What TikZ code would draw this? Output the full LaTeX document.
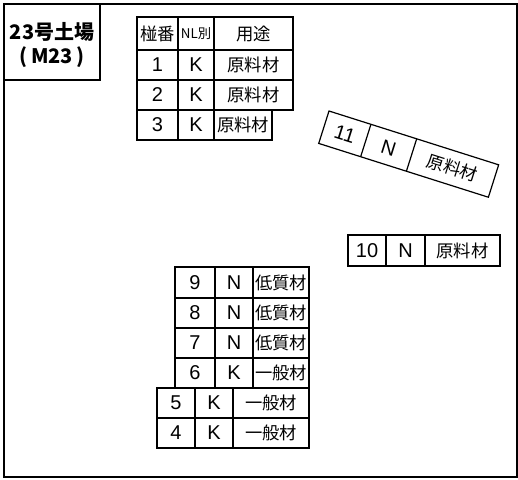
\documentclass[tikz,border=0pt]{standalone}
\usepackage{fontspec}
\setmainfont{Noto Sans CJK JP}
\newfontfamily\latinfont{Liberation Sans}
\usepackage{tikz}

\begin{document}
\begin{tikzpicture}[x=0.75pt,y=0.75pt,yscale=-1,xscale=1,
  every path/.style={line width=0.9pt},
  num/.style={inner sep=0.5pt,font=\latinfont\fontsize{15}{16}\selectfont},
  kanji/.style={inner sep=0.5pt,font=\fontsize{13}{14}\selectfont},
  small/.style={inner sep=0.5pt,font=\fontsize{10}{11}\selectfont},
  title/.style={inner sep=0.75pt,font=\bfseries\fontsize{15}{16}\selectfont}]
\useasboundingbox (0,0) rectangle (518,479);

%Shape: Rectangle [id:frame] 
\draw   (4,4) -- (517,4) -- (517,477) -- (4,477) -- cycle ;
%Shape: Rectangle [id:titlebox] 
\draw   (4,4) -- (100,4) -- (100,80) -- (4,80) -- cycle ;

% Text Node
\draw (52,32) node [title] (yard) {23号土場};
% Text Node
\draw (52,57) node [title] (yardcode) {(\,M23\,)};

%Shape: Table [id:tbl1] 
\draw   (137,17) -- (293,17) -- (293,110) -- (272,110) -- (272,140) -- (137,140) -- cycle ;
\draw   (137,50) -- (293,50) ;
\draw   (137,80) -- (293,80) ;
\draw   (137,110) -- (272,110) ;
\draw   (178,17) -- (178,140) ;
\draw   (214,17) -- (214,140) ;

% Text Node
\draw (157.5,33.5) node [kanji] (hno) {椪番};
% Text Node
\draw (196,33.5) node [small] (hnl) {NL別};
% Text Node
\draw (253.5,33.5) node [kanji] (huse) {用途};
% Text Node
\draw (157.5,65) node [num] (no1) {1};
\draw (196,65) node [num] (nl1) {K};
\draw (253.5,65) node [kanji] (use1) {原料材};
% Text Node
\draw (157.5,95) node [num] (no2) {2};
\draw (196,95) node [num] (nl2) {K};
\draw (253.5,95) node [kanji] (use2) {原料材};
% Text Node
\draw (157.5,125) node [num] (no3) {3};
\draw (196,125) node [num] (nl3) {K};
\draw (243,125) node [kanji] (use3) {原料材};

%Shape: Table [id:tbl11] 
\begin{scope}[shift={(329,111)},rotate=17.6]
\draw   (0,0) -- (178,0) -- (178,34) -- (0,34) -- cycle ;
\draw   (44,0) -- (44,34) ;
\draw   (92,0) -- (92,34) ;
% Text Node
\draw (22,17) node [num,rotate=-17.6] (no11) {11};
\draw (68,17) node [num,rotate=-17.6] (nl11) {N};
\draw (135,17) node [kanji,rotate=-17.6] (use11) {原料材};
\end{scope}

%Shape: Table [id:tbl10] 
\draw   (348,235) -- (500,235) -- (500,266) -- (348,266) -- cycle ;
\draw   (386,235) -- (386,266) ;
\draw   (425,235) -- (425,266) ;
% Text Node
\draw (367,250.5) node [num] (no10) {10};
\draw (405.5,250.5) node [num] (nl10) {N};
\draw (462.5,250.5) node [kanji] (use10) {原料材};

%Shape: Table [id:tbl9to6] 
\draw   (175,267) -- (309,267) -- (309,388) -- (175,388) -- cycle ;
\draw   (175,298) -- (309,298) ;
\draw   (175,328) -- (309,328) ;
\draw   (175,358) -- (309,358) ;
\draw   (215,267) -- (215,388) ;
\draw   (253,267) -- (253,388) ;

% Text Node
\draw (195,282.5) node [num] (no9) {9};
\draw (234,282.5) node [num] (nl9) {N};
\draw (281,282.5) node [kanji] (use9) {低質材};
% Text Node
\draw (195,313) node [num] (no8) {8};
\draw (234,313) node [num] (nl8) {N};
\draw (281,313) node [kanji] (use8) {低質材};
% Text Node
\draw (195,343) node [num] (no7) {7};
\draw (234,343) node [num] (nl7) {N};
\draw (281,343) node [kanji] (use7) {低質材};
% Text Node
\draw (195,373) node [num] (no6) {6};
\draw (234,373) node [num] (nl6) {K};
\draw (281,373) node [kanji] (use6) {一般材};

%Shape: Table [id:tbl5to4] 
\draw   (157,388) -- (309,388) -- (309,448) -- (157,448) -- cycle ;
\draw   (157,418) -- (309,418) ;
\draw   (195,388) -- (195,448) ;
\draw   (233,388) -- (233,448) ;

% Text Node
\draw (176,403) node [num] (no5) {5};
\draw (214,403) node [num] (nl5) {K};
\draw (271,403) node [kanji] (use5) {一般材};
% Text Node
\draw (176,433) node [num] (no4) {4};
\draw (214,433) node [num] (nl4) {K};
\draw (271,433) node [kanji] (use4) {一般材};
\end{tikzpicture}
\end{document}
